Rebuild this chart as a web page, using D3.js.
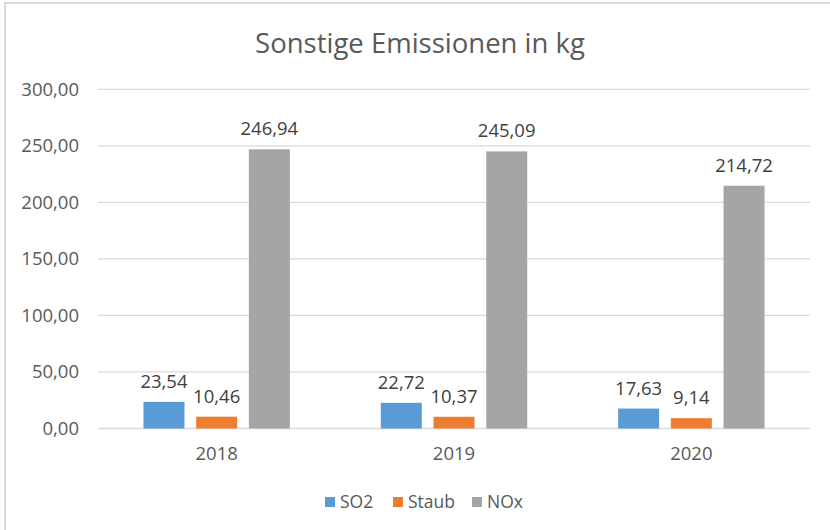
<!DOCTYPE html>
<html>
<head>
<meta charset="utf-8">
<script src="https://cdn.jsdelivr.net/npm/d3@7/dist/d3.min.js"></script>
<style>
  html, body { margin: 0; padding: 0; background: #fff; }
  svg { display: block; font-family: "Open Sans", sans-serif; }
</style>
</head>
<body>
<svg id="chart" width="830" height="530"></svg>
<script>
const title = "Sonstige Emissionen in kg";
const categories = ["2018", "2019", "2020"];
const seriesNames = ["SO2", "Staub", "NOx"];
const so2 = [23.54, 22.72, 17.63];
const staub = [10.46, 10.37, 9.14];
const nox = [246.94, 245.09, 214.72];
const yTicks = [0, 50, 100, 150, 200, 250, 300];
const colors = ["#5B9BD5", "#ED7D31", "#A5A5A5"];

const seriesValues = [so2, staub, nox];
const fmt = v => d3.format(".2f")(v).replace(".", ",");

const svg = d3.select("#chart");

// chart border
svg.append("rect")
  .attr("x", 5).attr("y", 3).attr("width", 840).attr("height", 540)
  .attr("fill", "none").attr("stroke", "#D9D9D9").attr("stroke-width", 2);

const plot = { left: 98, right: 810, top: 89.3, bottom: 428.5 };

const x0 = d3.scaleBand().domain(categories).range([plot.left, plot.right]).padding(0);
const x1 = d3.scaleBand().domain(seriesNames).range([0, x0.bandwidth()])
  .paddingInner(0.222).paddingOuter(0.8625);
const y = d3.scaleLinear().domain([0, 300]).range([plot.bottom, plot.top]);

// gridlines
svg.append("g").selectAll("line").data(yTicks).join("line")
  .attr("x1", plot.left).attr("x2", plot.right)
  .attr("y1", d => y(d)).attr("y2", d => y(d))
  .attr("stroke", "#D9D9D9").attr("stroke-width", 1.3);

// y axis labels
const yAxis = d3.axisLeft(y).tickValues(yTicks).tickFormat(fmt).tickSize(0).tickPadding(0);
const yg = svg.append("g").attr("transform", `translate(79,0)`).call(yAxis);
yg.select(".domain").remove();
yg.selectAll("text").attr("fill", "#595959").style("font-size", "18.5px")
  .style("font-family", "'Open Sans', sans-serif");

// x axis labels
const xAxis = d3.axisBottom(x0).tickSize(0).tickPadding(0);
const xg = svg.append("g").attr("transform", `translate(0,447)`).call(xAxis);
xg.select(".domain").remove();
xg.selectAll("text").attr("fill", "#595959").style("font-size", "18.5px")
  .style("font-family", "'Open Sans', sans-serif");

// bars
const groups = svg.append("g").selectAll("g").data(categories).join("g")
  .attr("transform", d => `translate(${x0(d)},0)`);

groups.each(function(cat, ci) {
  const g = d3.select(this);
  const data = seriesNames.map((s, si) => ({ s, si, v: seriesValues[si][ci] }));
  g.selectAll("rect").data(data).join("rect")
    .attr("x", d => x1(d.s))
    .attr("width", x1.bandwidth())
    .attr("y", d => y(d.v))
    .attr("height", d => y(0) - y(d.v))
    .attr("fill", d => colors[d.si]);
  g.selectAll("text").data(data).join("text")
    .attr("x", d => x1(d.s) + x1.bandwidth() / 2)
    .attr("y", d => y(d.v) - 14)
    .attr("text-anchor", "middle")
    .attr("fill", "#404040")
    .style("font-size", "18.5px")
    .text(d => fmt(d.v));
});

// title
svg.append("text")
  .attr("x", 420).attr("y", 53)
  .attr("text-anchor", "middle")
  .attr("fill", "#595959")
  .style("font-size", "27.5px")
  .text(title);

// legend
const legendX = [325, 393, 472];
const lg = svg.append("g").selectAll("g").data(seriesNames).join("g")
  .attr("transform", (d, i) => `translate(${legendX[i]},0)`);
lg.append("rect").attr("x", 0).attr("y", 497).attr("width", 10).attr("height", 10)
  .attr("fill", (d, i) => colors[i]);
lg.append("text").attr("x", 15).attr("y", 508)
  .attr("fill", "#595959").style("font-size", "17.5px").text(d => d);
</script>
</body>
</html>
